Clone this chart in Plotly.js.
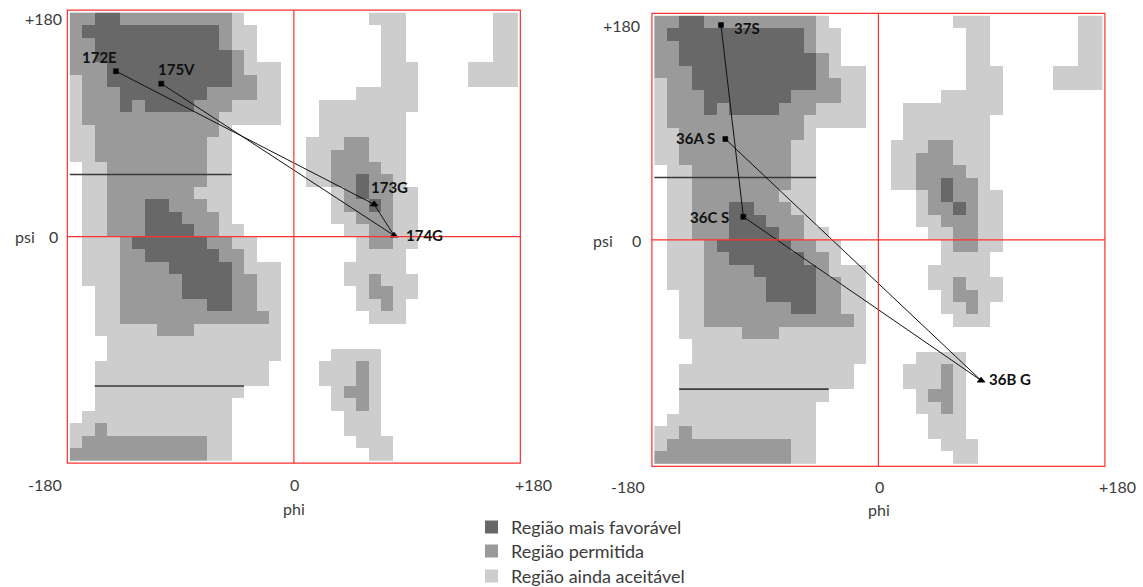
<!DOCTYPE html>
<html><head><meta charset="utf-8">
<script src="https://cdn.plot.ly/plotly-3.0.1.min.js"></script>
<style>html,body{margin:0;padding:0;background:#fff}#chart{width:1143px;height:587px}</style>
</head><body><div id="chart"></div>
<script>
// Ramachandran regions, 10-degree cells. Row 0 = psi 180..170, col 0 = phi -180..-170.
// 0 = outside, 1 = Região ainda aceitável, 2 = Região permitida, 3 = Região mais favorável
const regionRows = [
  "223322222222210000000000111000000011",
  "233333333333211000000000011000000011",
  "223333333333211000000000011000000011",
  "223333333333321000000000011000000011",
  "222333333333321110000000011100001111",
  "122333333333322110000000011100001111",
  "122233333332222110000001111100000000",
  "122232333322211110001111111100000000",
  "122222222222111110001111111000000000",
  "112222222222100000001111111000000000",
  "112222222221100000011122111000000000",
  "112222222221100000011222111000000000",
  "011222222221100000011222211000000000",
  "011222222221100000011223221000000000",
  "011222222211100000000123221100000000",
  "011222332221100000000122321100000000",
  "011222333222100000000112221100000000",
  "011222333322110000000011221100000000",
  "011123333332211000000001221100000000",
  "011122333333221000000001111000000000",
  "011122223333321110000011111000000000",
  "011122222333322110000011211100000000",
  "001122222333322110000001221100000000",
  "001122222223322110000001121000000000",
  "001122222222222210000000111000000000",
  "001111122211111110000000000000000000",
  "000111111111111110000000000000000000",
  "000111111111111110000111100000000000",
  "001111111111111100001112100000000000",
  "001111111111111100001112100000000000",
  "001111111111110000000122100000000000",
  "001111111111100000000112100000000000",
  "011111111111100000000011100000000000",
  "112111111111100000000011100000000000",
  "122222222221100000000001110000000000",
  "222222222221100000000000110000000000"
];
const levelNames  = ["Região mais favorável", "Região permitida", "Região ainda aceitável"];
const levelColors = ["#686868", "#9a9a9a", "#cdcdcd"];   // dark, mid, light
const tickLabels  = ["-180", "0", "+180"];

// Left panel residues (path order)
const leftLabels = ["172E", "173G", "174G", "175V"];
const leftPhi    = [-143, 64.5, 80.5, -106.5];
const leftPsi    = [133, 26, 1, 123];
// Right panel residues (path order)
const rightLabels = ["36A S", "36B G", "36C S", "37S"];
const rightPhi    = [-123, 82.5, -108.5, -126.5];
const rightPsi    = [81, -113, 18.5, 172.5];

// Black reference segments
const refPsi     = [50, -120];
const refPhiFrom = [-180, -160];
const refPhiTo   = [-50, -40];

// ---------- build ----------
const W = 1143, H = 587;
const FONT = 'Lato, "Open Sans", "DejaVu Sans", sans-serif';
const px = x => x / W, py = y => 1 - y / H;
regionRows.forEach((r, i) => { if (r.length !== 36) console.error("row " + i + " length " + r.length); });
const z = regionRows.map(r => r.split("").map(Number));
const cs = [[0, "#ffffff"], [0.1667, "#ffffff"], [0.1667, levelColors[2]], [0.5, levelColors[2]],
            [0.5, levelColors[1]], [0.8333, levelColors[1]], [0.8333, levelColors[0]], [1, levelColors[0]]];

const labelShift = {
  "172E": [-16, 14.5], "173G": [15, 17], "174G": [30, 0], "175V": [15, 15],
  "36A S": [-30, 1.5], "36B G": [29, 1], "36C S": [-34, 0], "37S": [26, -2.5]
};

function panel(xa, ya, labels, phi, psi) {
  const heat = {
    type: "heatmap", z: z, x0: -175, dx: 10, y0: 175, dy: -10,
    zmin: 0, zmax: 3, colorscale: cs, showscale: false, zsmooth: false,
    hoverinfo: "skip", xaxis: xa, yaxis: ya
  };
  const refs = refPsi.map((p, i) => ({
    type: "scatter", mode: "lines", x: [refPhiFrom[i], refPhiTo[i]], y: [p, p],
    line: { color: "#3a3a3a", width: 1.6 }, hoverinfo: "skip", xaxis: xa, yaxis: ya
  }));
  const path = {
    type: "scatter", mode: "lines", x: phi, y: psi,
    line: { color: "#111", width: 1 }, hoverinfo: "skip", xaxis: xa, yaxis: ya
  };
  const marks = {
    type: "scatter", mode: "markers", x: phi, y: psi,
    marker: {
      color: "#000", opacity: 1,
      symbol: labels.map(l => /G$/.test(l) ? "triangle-up" : "square"),
      size: labels.map(l => /G$/.test(l) ? 7 : 5),
      line: { width: 0.5, color: "#000" }
    },
    hoverinfo: "skip", xaxis: xa, yaxis: ya
  };
  return [heat, ...refs, path, marks];
}

const data = [
  ...panel("x", "y", leftLabels, leftPhi, leftPsi),
  ...panel("x2", "y2", rightLabels, rightPhi, rightPsi)
];

const ann = [];
function addLabels(xa, ya, labels, phi, psi) {
  labels.forEach((l, i) => ann.push({
    xref: xa, yref: ya, x: phi[i], y: psi[i], text: "<b>" + l + "</b>", showarrow: false,
    xshift: labelShift[l][0], yshift: labelShift[l][1],
    font: { family: FONT, size: 15, color: "#111" }
  }));
}
addLabels("x", "y", leftLabels, leftPhi, leftPsi);
addLabels("x2", "y2", rightLabels, rightPhi, rightPsi);

function txt(t, x, y, anchor) {
  ann.push({ xref: "paper", yref: "paper", x: px(x), y: py(y), text: t, showarrow: false,
    xanchor: anchor || "center", yanchor: "middle",
    font: { family: FONT, size: 16, color: "#3c3c3c" } });
}
// left panel axis texts
txt(tickLabels[2], 43, 18); txt("psi", 25, 236); txt(tickLabels[1], 53, 236);
txt(tickLabels[0], 45, 484); txt(tickLabels[1], 294, 484); txt(tickLabels[2], 533, 484); txt("phi", 294, 508);
// right panel axis texts
txt(tickLabels[2], 622, 25); txt("psi", 603, 240); txt(tickLabels[1], 636, 240);
txt(tickLabels[0], 628, 486); txt(tickLabels[1], 879, 486); txt(tickLabels[2], 1117, 486); txt("phi", 879, 509);

// legend
const shapes = [];
const legY = [527, 551, 576];
levelNames.forEach((n, i) => {
  shapes.push({ type: "rect", xref: "paper", yref: "paper", x0: px(485), x1: px(498),
    y0: py(legY[i] + 6.5), y1: py(legY[i] - 6.5), fillcolor: levelColors[i], line: { width: 0 } });
  ann.push({ xref: "paper", yref: "paper", x: px(509), y: py(legY[i]), text: n, showarrow: false,
    xanchor: "left", yanchor: "middle", font: { family: FONT, size: 18, color: "#3c3c3c" } });
});

// frames and zero cross lines
const RED = "#ff3030";
[["x", "y"], ["x2", "y2"]].forEach(([xa, ya]) => {
  shapes.push({ type: "rect", xref: xa + " domain", yref: ya + " domain", x0: 0, x1: 1, y0: 0, y1: 1,
    line: { color: RED, width: 1.2 }, layer: "above" });
  shapes.push({ type: "line", xref: xa, yref: ya + " domain", x0: 0, x1: 0, y0: 0, y1: 1,
    line: { color: RED, width: 1.2 }, layer: "above" });
  shapes.push({ type: "line", xref: xa + " domain", yref: ya, x0: 0, x1: 1, y0: 0, y1: 0,
    line: { color: RED, width: 1.2 }, layer: "above" });
});

const ax = (dom, anchor) => ({ domain: dom, range: [-182, 182], visible: false, fixedrange: true, anchor: anchor });
const layout = {
  width: W, height: H, margin: { l: 0, r: 0, t: 0, b: 0 },
  paper_bgcolor: "#fff", plot_bgcolor: "#fff", showlegend: false,
  xaxis:  ax([px(67.35), px(520.35)], "y"),
  yaxis:  ax([py(463.2), py(10.2)], "x"),
  xaxis2: ax([px(651.9), px(1104.9)], "y2"),
  yaxis2: ax([py(466.3), py(13.3)], "x2"),
  shapes: shapes, annotations: ann
};
Plotly.newPlot("chart", data, layout, { staticPlot: true, displayModeBar: false });
</script>
</body></html>
